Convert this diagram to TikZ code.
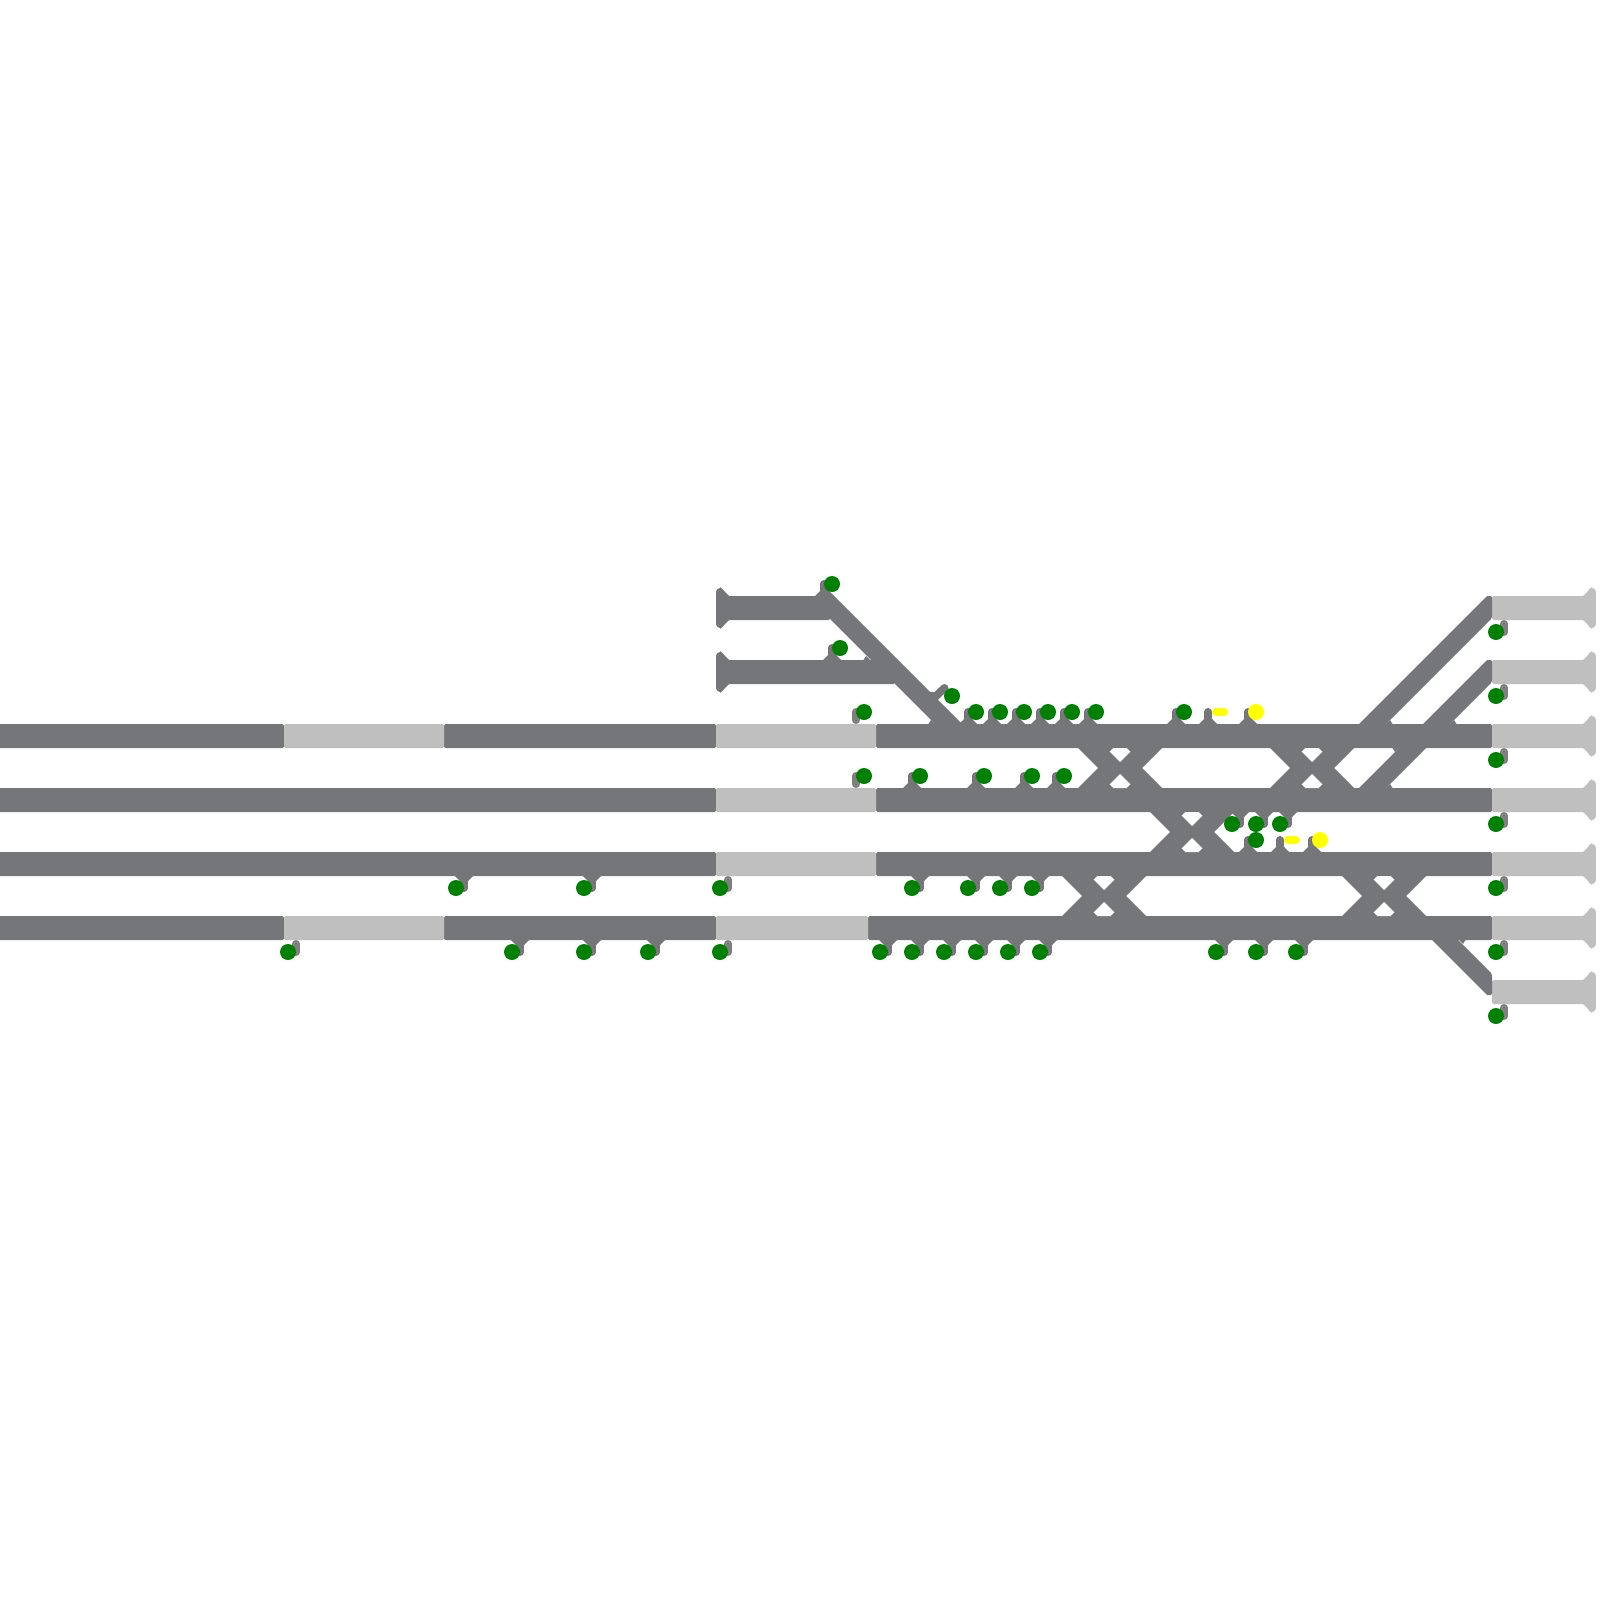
\documentclass[tikz,border=0pt]{standalone}
\usepackage{xcolor}
\definecolor{railgray}{HTML}{75767A}
\definecolor{idlegray}{HTML}{BFBFBF}
\definecolor{mastgray}{HTML}{7F7F7F}
\definecolor{signalgreen}{HTML}{008000}
\definecolor{signalyellow}{HTML}{FFFF00}
\tikzset{
  rail/.style={fill=railgray},
  idle/.style={fill=idlegray},
  mast/.style={draw=railgray, line width=8pt, line cap=round},
  freemast/.style={draw=mastgray, line width=8pt, line cap=round},
  greensig/.style={circle, fill=signalgreen, inner sep=0pt, minimum size=16pt},
  yellowsig/.style={circle, fill=signalyellow, inner sep=0pt, minimum size=16pt},
  dashsig/.style={draw=signalyellow, line width=8pt, line cap=round},
}
% mast standing on a rail: #1 x, #2 y of the rail edge
\newcommand{\mastup}[2]{
  \fill[rail] (#1-9,#2+1) -- (#1-9,#2) -- (#1,#2-9) -- (#1+9,#2) -- (#1+9,#2+1) -- cycle;
  \draw[mast] (#1,#2-12) -- (#1,#2-4);
}
\newcommand{\mastdown}[2]{
  \fill[rail] (#1-9,#2-1) -- (#1-9,#2) -- (#1,#2+9) -- (#1+9,#2) -- (#1+9,#2-1) -- cycle;
  \draw[mast] (#1,#2+12) -- (#1,#2+4);
}
% scissors between two rails: #1, #2 centre
\newcommand{\scissors}[2]{
  \fill[rail] (#1-42,#2-21) -- (#1-42,#2-20) -- (#1-22,#2) -- (#1-42,#2+20) -- (#1-42,#2+21)
    -- (#1+42,#2+21) -- (#1+42,#2+20) -- (#1+22,#2) -- (#1+42,#2-20) -- (#1+42,#2-21) -- cycle;
  \fill[white] (#1,#2-6) -- (#1-10.3,#2-16.3) -- (#1-6.7,#2-20) -- (#1+6.7,#2-20) -- (#1+10.3,#2-16.3) -- cycle;
  \fill[white] (#1,#2+6) -- (#1-10.3,#2+16.3) -- (#1-6.7,#2+20) -- (#1+6.7,#2+20) -- (#1+10.3,#2+16.3) -- cycle;
}
% blunted sharp corner: #1, #2 apex, #3, #4 direction of the wedge
\newcommand{\blunt}[4]{
  \fill[rail] (#1,#2) -- (#1+#3*6.5,#2) -- (#1+#3*4,#2+#4*4) -- cycle;
}
\begin{document}
\begin{tikzpicture}[x=1pt, y=-1pt]
  \useasboundingbox (0,0) rectangle (1600,1600);

  % rails
  \foreach \xa/\xb/\yy in {-3/284/736, 444/716/736, 876/1492/736, -3/716/800, 876/1492/800,
      -3/716/864, 876/1492/864, -3/284/928, 444/716/928, 868/1492/928, 720/830/608, 720/895/672}
    \fill[rail, rounded corners=1.5pt] (\xa,\yy-12) rectangle (\xb,\yy+12);
  \foreach \xa/\xb/\yy in {284/444/736, 716/876/736, 716/876/800, 716/876/864,
      284/444/928, 716/868/928}
    \fill[idle, rounded corners=1.5pt] (\xa,\yy-12) rectangle (\xb,\yy+12);

  % ends of the tracks
  \foreach \yy in {608, 672} {
    \fill[rail] (729,\yy-12) -- (720,\yy-21) -- (720,\yy+21) -- (729,\yy+12) -- cycle;
    \draw[mast] (720,\yy-16) -- (720,\yy+16);
  }
  \foreach \yy in {608, 672, 736, 800, 864, 928, 992} {
    \fill[idle, rounded corners=1.5pt] (1492,\yy-12) rectangle (1590,\yy+12);
    \fill[idle] (1583,\yy-12) -- (1592,\yy-21) -- (1592,\yy+21) -- (1583,\yy+12) -- cycle;
    \draw[draw=idlegray, line width=8pt, line cap=round] (1592,\yy-16) -- (1592,\yy+16);
  }

  % diagonals
  \fill[rail] (820,596) -- (826,588) -- (974,736) -- (947,736) -- (820,609) -- cycle;
  \fill[rail] (1347,736) -- (1487,596) [rounded corners=1.5pt] -- (1492,596) -- (1492,618) [sharp corners] -- (1374,736) -- cycle;
  \fill[rail] (1347,800) -- (1487,660) [rounded corners=1.5pt] -- (1492,660) -- (1492,682) [sharp corners] -- (1374,800) -- cycle;
  \fill[rail] (1420,928) -- (1487,995) [rounded corners=1.5pt] -- (1492,995) -- (1492,974) [sharp corners] -- (1446,928) -- cycle;

  % crossovers
  \foreach \cx/\cy in {1120/768, 1312/768, 1192/832, 1104/896, 1384/896}
    \scissors{\cx}{\cy};

  % sharp corners
  \foreach \xa/\yy/\sx/\sy in {935/724/-1/-1, 870/660/-1/-1, 1386/724/1/-1, 1450/724/1/-1,
      1399/748/-1/1, 1386/788/1/-1, 1459/940/1/1}
    \blunt{\xa}{\yy}{\sx}{\sy};

  % masts on the rails
  \foreach \xa/\yy in {824/596, 832/660, 968/724, 992/724, 1016/724, 1040/724, 1064/724, 1088/724,
      1176/724, 1208/724, 1248/724, 912/788, 976/788, 1024/788, 1056/788, 1248/852, 1280/852, 1312/852}
    \mastup{\xa}{\yy};
  \foreach \xa/\yy in {464/876, 592/876, 920/876, 976/876, 1008/876, 1040/876, 1240/812, 1264/812, 1288/812,
      520/940, 592/940, 656/940, 888/940, 920/940, 952/940, 984/940, 1016/940, 1048/940,
      1224/940, 1264/940, 1304/940}
    \mastdown{\xa}{\yy};
  \fill[rail] (929,692) -- (935,692) -- (938,700) -- cycle;
  \draw[mast] (934,698) -- (944.5,688);

  % free masts
  \foreach \xa/\yy in {856/712, 856/776}
    \draw[freemast] (\xa,\yy) -- (\xa,\yy+8);
  \foreach \xa/\yy in {296/952, 728/888, 728/952, 1504/632, 1504/696, 1504/760, 1504/824, 1504/888, 1504/952, 1504/1016}
    \draw[freemast] (\xa,\yy) -- (\xa,\yy-8);

  % green signals
  \foreach \xa/\yy in {832/584, 840/648, 952/696, 864/712, 976/712, 1000/712, 1024/712, 1048/712, 1072/712, 1096/712, 1184/712,
      864/776, 920/776, 984/776, 1032/776, 1064/776, 1232/824, 1256/824, 1280/824, 1256/840,
      456/888, 584/888, 720/888, 912/888, 968/888, 1000/888, 1032/888,
      288/952, 512/952, 584/952, 648/952, 720/952, 880/952, 912/952, 944/952, 976/952, 1008/952, 1040/952,
      1216/952, 1256/952, 1296/952, 1496/632, 1496/696, 1496/760, 1496/824, 1496/888, 1496/952, 1496/1016}
    \node[greensig] (g\xa-\yy) at (\xa,\yy) {};

  % yellow signals
  \node[yellowsig] (y1256) at (1256,712) {};
  \node[yellowsig] (y1320) at (1320,840) {};
  \draw[dashsig] (1216,712) -- (1224,712);
  \draw[dashsig] (1288,840) -- (1296,840);
\end{tikzpicture}
\end{document}
